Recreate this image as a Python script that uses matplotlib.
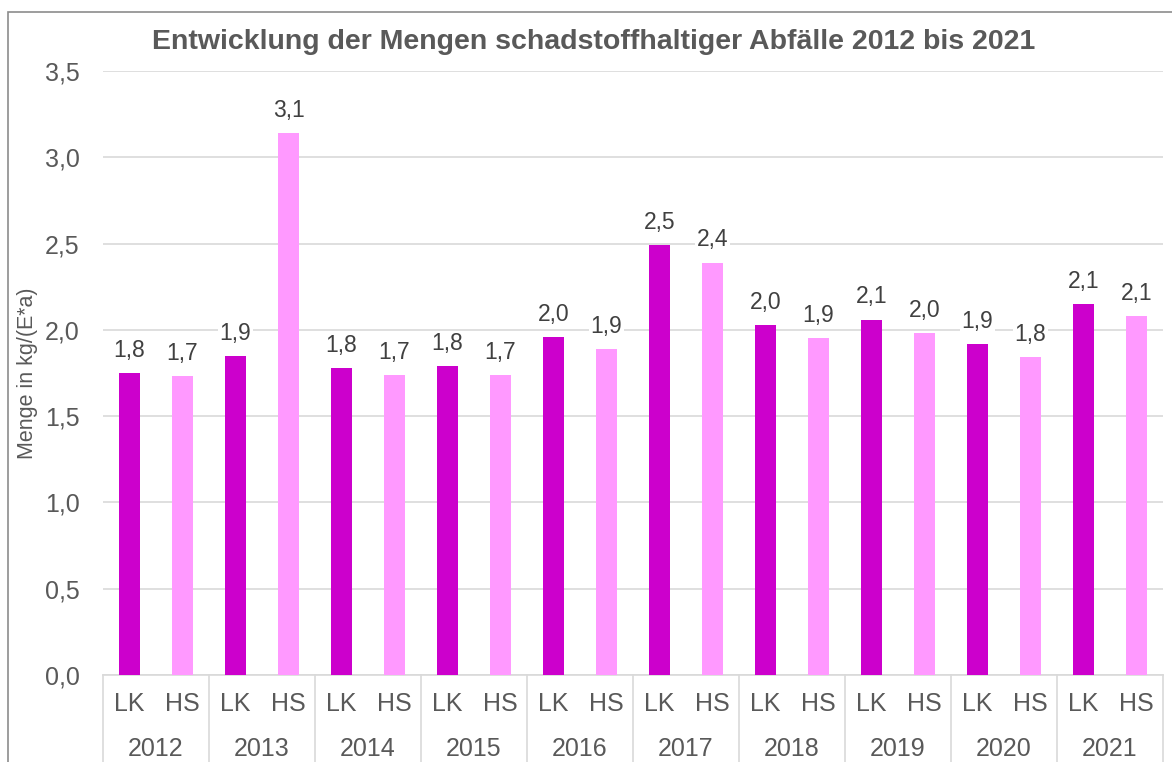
import matplotlib.pyplot as plt
import matplotlib.patches as mpatches
from matplotlib.ticker import FuncFormatter

plt.rcParams['font.family'] = ['Liberation Sans', 'DejaVu Sans']

# Daten
jahre = ['2012', '2013', '2014', '2015', '2016', '2017', '2018', '2019', '2020', '2021']
werte_lk = [1.75, 1.85, 1.78, 1.79, 1.96, 2.49, 2.03, 2.06, 1.92, 2.15]
werte_hs = [1.73, 3.14, 1.74, 1.74, 1.89, 2.39, 1.95, 1.98, 1.84, 2.08]
kategorien = ['LK', 'HS']

farbe_lk = '#CC00CC'
farbe_hs = '#FF99FF'
grau_text = '#595959'
grau_linie = '#D9D9D9'

fig = plt.figure(figsize=(11.72, 7.62), dpi=100)
ax = fig.add_axes([103 / 1172, 87 / 762, 1060 / 1172, 604 / 762])

# Rahmen um die Grafik
rahmen = mpatches.Rectangle((8 / 1172, -0.1), 1.2, (762 - 12) / 762 + 0.1,
                            transform=fig.transFigure, fill=False,
                            edgecolor='#8C8C8C', linewidth=1.2, zorder=0)
fig.patches.append(rahmen)

pos_lk = [2 * i for i in range(len(jahre))]
pos_hs = [2 * i + 1 for i in range(len(jahre))]

balken_lk = ax.bar(pos_lk, werte_lk, width=0.4, color=farbe_lk, zorder=3)
balken_hs = ax.bar(pos_hs, werte_hs, width=0.4, color=farbe_hs, zorder=3)

# Datenbeschriftungen
for balken, werte in [(balken_lk, werte_lk), (balken_hs, werte_hs)]:
    for b, w in zip(balken, werte):
        ax.annotate(f'{w:.1f}'.replace('.', ','),
                    (b.get_x() + b.get_width() / 2, w),
                    xytext=(0, 8), textcoords='offset points',
                    ha='center', va='bottom', fontsize=16.5, color='#404040',
                    bbox=dict(facecolor='white', edgecolor='none', pad=1),
                    zorder=4)

ax.set_xlim(-0.5, 2 * len(jahre) - 0.5)
ax.set_ylim(0, 3.5)
ax.set_yticks([i * 0.5 for i in range(8)])
ax.yaxis.set_major_formatter(FuncFormatter(lambda v, p: f'{v:.1f}'.replace('.', ',')))
ax.grid(axis='y', color=grau_linie, linewidth=1.2, zorder=0)

ax.set_xticks(pos_lk + pos_hs)
ax.set_xticklabels(kategorien[:1] * len(jahre) + kategorien[1:] * len(jahre))
ax.tick_params(axis='x', length=0, pad=12, labelsize=18, labelcolor=grau_text)
ax.tick_params(axis='y', length=0, pad=17, labelsize=18, labelcolor=grau_text)

for s in ['top', 'right', 'left']:
    ax.spines[s].set_visible(False)
ax.spines['bottom'].set_color(grau_linie)
ax.spines['bottom'].set_linewidth(1.2)

# Trennlinien und Jahresbeschriftung
trans = ax.get_xaxis_transform()
for i in range(len(jahre) + 1):
    ax.plot([2 * i - 0.5, 2 * i - 0.5], [0, -0.2], transform=trans,
            color=grau_linie, linewidth=1.2, clip_on=False)
for i, j in enumerate(jahre):
    ax.text(2 * i + 0.5, -0.122, j, transform=trans, ha='center', va='center',
            fontsize=18, color=grau_text)

ax.set_ylabel('Menge in kg/(E*a)', fontsize=15.5, color=grau_text)
ax.yaxis.set_label_coords(-0.061, 0.5)
fig.suptitle('Entwicklung der Mengen schadstoffhaltiger Abfälle 2012 bis 2021',
             x=594 / 1172, y=1 - 42 / 762, va='center', fontsize=20.5,
             fontweight='bold', color=grau_text)

fig.savefig('out.png', dpi=100)
